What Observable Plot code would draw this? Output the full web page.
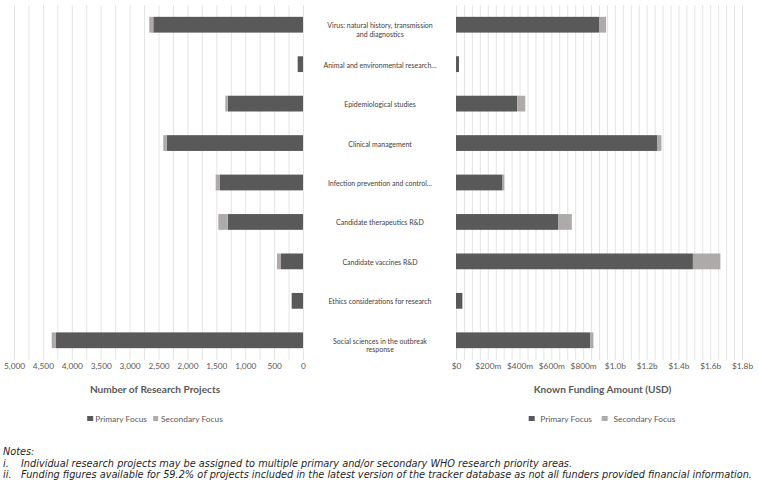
<!DOCTYPE html>
<html>
<head>
<meta charset="utf-8">
<script src="https://cdn.jsdelivr.net/npm/d3@7"></script>
<script src="https://cdn.jsdelivr.net/npm/@observablehq/plot@0.6"></script>
<style>
  html, body { margin: 0; padding: 0; background: #fff; }
  #root { position: relative; width: 759px; height: 483px; overflow: hidden; font-family: Lato, sans-serif; }
  .abs { position: absolute; }
  .title { font-weight: bold; font-size: 10.1px; color: #595959; white-space: nowrap; transform: translate(-50%, -50%); }
  .legend { font-size: 8.4px; color: #595959; white-space: nowrap; transform: translate(-50%, -50%); display: flex; align-items: center; }
  .sw { display: inline-block; width: 5.5px; height: 5.5px; }
  .notes { font-family: "DejaVu Sans", sans-serif; font-style: italic; font-size: 10px; color: #1f1f1f; white-space: nowrap; line-height: 1; }
</style>
</head>
<body>
<div id="root"></div>
<script>
// ---- data ----
const categories = [
  "Virus: natural history, transmission\nand diagnostics",
  "Animal and environmental research…",
  "Epidemiological studies",
  "Clinical management",
  "Infection prevention and control…",
  "Candidate therapeutics R&D",
  "Candidate vaccines R&D",
  "Ethics considerations for research",
  "Social sciences in the outbreak\nresponse"
];
const seriesNames = ["Primary Focus", "Secondary Focus"];
const seriesColors = ["#595959", "#AEAAAA"];
// Number of research projects
const projectsPrimary   = [2590, 92, 1303, 2358, 1436, 1303, 381, 196, 4273];
const projectsSecondary = [70, 0, 41, 59, 75, 162, 69, 0, 75];
// Known funding amount, USD millions
const fundingPrimary    = [900, 19, 385, 1268, 293, 645, 1491, 40, 844];
const fundingSecondary  = [45, 0, 51, 25, 11, 84, 173, 0, 21];
const projectTicks = [0, 500, 1000, 1500, 2000, 2500, 3000, 3500, 4000, 4500, 5000];
const fundingTicks = [0, 200, 400, 600, 800, 1000, 1200, 1400, 1600, 1800];
const leftTitle = "Number of Research Projects";
const rightTitle = "Known Funding Amount (USD)";
const notesTitle = "Notes:";
const notes = [
  ["i.", "Individual research projects may be assigned to multiple primary and/or secondary WHO research priority areas."],
  ["ii.", "Funding figures available for 59.2% of projects included in the latest version of the tracker database as not all funders provided financial information."]
];

function longData(p, s) {
  return categories.flatMap((c, i) => [
    {cat: c, series: seriesNames[0], value: p[i]},
    {cat: c, series: seriesNames[1], value: s[i]}
  ]);
}

const root = document.getElementById("root");
const common = {
  height: 380,
  marginTop: 5,
  marginBottom: 20,
  style: {fontFamily: "Lato, sans-serif", fontSize: "8.3px", color: "#595959", background: "transparent", overflow: "visible"},
  y: {domain: categories, paddingInner: 0.6, paddingOuter: 0.3, round: false, axis: null},
  color: {domain: seriesNames, range: seriesColors}
};

// Left chart: projects (reversed x), with category labels to its right
const left = Plot.plot({
  ...common,
  width: 460,
  marginLeft: 14,
  marginRight: 157,
  x: {domain: [0, 5000], reverse: true},
  marks: [
    Plot.ruleX(d3.range(0, 5001, 250), {stroke: "#e4e4e4", strokeWidth: 1}),
    Plot.barX(longData(projectsPrimary, projectsSecondary), {y: "cat", x: "value", fill: "series"}),
    Plot.axisX({ticks: projectTicks, tickFormat: d3.format(","), tickSize: 0, tickPadding: 3, fill: "#595959", label: null}),
    Plot.text(categories, {y: d => d, frameAnchor: "right", dx: 76.5, textAnchor: "middle", lineAnchor: "top", dy: -3, fontSize: 7, lineHeight: 1.2, fill: "#404040"})
  ]
});
left.style.position = "absolute";
left.style.left = "0px";
left.style.top = "0px";
root.appendChild(left);

// Right chart: funding
const fmtFunding = d => d === 0 ? "$0" : d < 1000 ? `$${d}m` : `$${(d / 1000).toFixed(1)}b`;
const right = Plot.plot({
  ...common,
  width: 319,
  marginLeft: 16,
  marginRight: 17,
  x: {domain: [0, 1800]},
  marks: [
    Plot.ruleX(d3.range(0, 1801, 50), {stroke: "#e4e4e4", strokeWidth: 1}),
    Plot.barX(longData(fundingPrimary, fundingSecondary), {y: "cat", x: "value", fill: "series"}),
    Plot.axisX({ticks: fundingTicks, tickFormat: fmtFunding, tickSize: 0, tickPadding: 3, fill: "#595959", label: null})
  ]
});
right.style.position = "absolute";
right.style.left = "440px";
right.style.top = "0px";
root.appendChild(right);

// Axis titles
function addTitle(text, cx, cy) {
  const d = document.createElement("div");
  d.className = "abs title";
  d.style.left = cx + "px";
  d.style.top = cy + "px";
  d.textContent = text;
  root.appendChild(d);
}
addTitle(leftTitle, 155, 389);
addTitle(rightTitle, 602.5, 389);

// Legends
function addLegend(cx, cy, gapSw, gapItem) {
  const d = document.createElement("div");
  d.className = "abs legend";
  d.style.left = cx + "px";
  d.style.top = cy + "px";
  seriesNames.forEach((n, i) => {
    const sw = document.createElement("span");
    sw.className = "sw";
    sw.style.background = seriesColors[i];
    sw.style.marginRight = gapSw + "px";
    if (i > 0) sw.style.marginLeft = gapItem + "px";
    const t = document.createElement("span");
    t.textContent = n;
    d.appendChild(sw);
    d.appendChild(t);
  });
  root.appendChild(d);
}
addLegend(155, 418.5, 2.5, 6);
addLegend(602, 418.5, 6, 10);

// Notes
const noteEls = [];
function addNote(text, x, cy) {
  const d = document.createElement("div");
  d.className = "abs notes";
  d.style.left = x + "px";
  d.style.top = cy + "px";
  d.style.transform = "translateY(-50%)";
  d.textContent = text;
  root.appendChild(d);
  noteEls.push(d);
  return d;
}
addNote(notesTitle, 3, 451.5);
let lastLine = null;
notes.forEach(([num, txt], i) => {
  addNote(num, 3, 463.5 + i * 11);
  lastLine = addNote(txt, 21, 463.5 + i * 11);
});
// fit the note font so the longest line spans the same width as in the reference (x 21 → 752)
const w = lastLine.getBoundingClientRect().width;
const fs = 10 * 731 / w;
noteEls.forEach(el => el.style.fontSize = fs.toFixed(2) + "px");
</script>
</body>
</html>
